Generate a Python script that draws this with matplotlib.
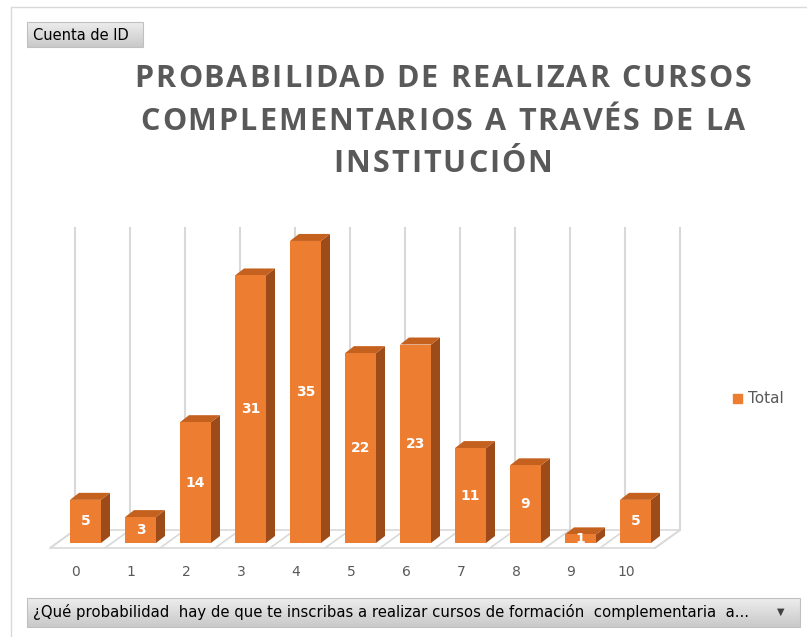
import matplotlib.pyplot as plt
import numpy as np
from matplotlib.patches import Polygon, Rectangle
from matplotlib.font_manager import FontProperties
from matplotlib.colors import LinearSegmentedColormap

# --- data ---
categories = ['0', '1', '2', '3', '4', '5', '6', '7', '8', '9', '10']
totals = [5, 3, 14, 31, 35, 22, 23, 11, 9, 1, 5]

title_lines = ['PROBABILIDAD DE REALIZAR CURSOS',
               'COMPLEMENTARIOS A TRAVÉS DE LA',
               'INSTITUCIÓN']
field_button = 'Cuenta de ID'
axis_button = ('¿Qué probabilidad  hay de que te inscribas a realizar cursos de '
               'formación  complementaria  a...')
legend_label = 'Total'

W, H = 807, 637
FRONT = '#ED7D31'
SIDE = '#9E4B1A'
TOP = '#C5611F'
GRID = '#D9D9D9'
TEXT = '#595959'

fig = plt.figure(figsize=(W / 100, H / 100), dpi=100)

# background axes in pixel units for the frame, buttons, legend and title
bg = fig.add_axes([0, 0, 1, 1])
bg.set_xlim(0, W)
bg.set_ylim(H, 0)
bg.axis('off')

bg.plot([11, 11, W + 5], [H + 5, 7, 7], color='#D9D9D9', lw=1)


def button(x0, y0, x1, y1):
    grad = np.linspace(0, 1, 50).reshape(-1, 1)
    cmap = LinearSegmentedColormap.from_list('b', ['#EDEDED', '#C9C9C9'])
    bg.imshow(grad, cmap=cmap, extent=(x0, x1, y1, y0), aspect='auto', zorder=1)
    bg.add_patch(Rectangle((x0, y0), x1 - x0, y1 - y0, fill=False,
                           ec='#C0C0C0', lw=0.8, zorder=2))


button(27, 22, 143, 47)
bg.text(33, 35, field_button, fontsize=10.5, color='black', va='center', zorder=3)
button(27, 598, 800, 627)
bg.text(33, 612.5, axis_button, fontsize=10.7, color='black', va='center', zorder=3)
bg.text(781, 612, '▼', fontsize=7, color='#404040', ha='center', va='center', zorder=3)

# legend
bg.add_patch(Rectangle((733, 394), 9, 9, color=FRONT))
bg.text(748, 398.5, legend_label, fontsize=11, color=TEXT, va='center')

# title, letter-spaced like the Excel chart title
renderer = fig.canvas.get_renderer()
tprop = FontProperties(family='Open Sans', weight='bold', size=22)


def text_w(s):
    return renderer.get_text_width_height_descent(s, tprop, ismath=False)[0]


line1 = title_lines[0]
spacing = max(0.0, (617 - text_w(line1)) / (len(line1) - 1))

for line, base in zip(title_lines, [87, 130, 172]):
    total_w = text_w(line) + (len(line) - 1) * spacing
    start = 443 - total_w / 2
    for i, ch in enumerate(line):
        if ch == ' ':
            continue
        xpos = start + text_w(line[:i] + 'X') - text_w('X') + i * spacing
        bg.text(xpos, base, ch, fontproperties=tprop, color=TEXT,
                ha='left', va='baseline')

# --- main plot area, scaled so that the bars land where they do in the picture ---
px_x = 55.0          # pixels per category
px_y = 8.63          # pixels per unit
x0_px, y0_px = 85.5, 543  # centre of first bar, baseline
left_px, right_px, top_px, bot_px = 40, 720, 215, 565
ax = fig.add_axes([left_px / W, 1 - bot_px / H, (right_px - left_px) / W,
                   (bot_px - top_px) / H])
ax.set_xlim((left_px - x0_px) / px_x, (right_px - x0_px) / px_x)
ax.set_ylim((y0_px - bot_px) / px_y, (y0_px - top_px) / px_y)
ax.axis('off')

x = np.arange(len(categories))
bw = 31 / px_x
dx, dy = 9 / px_x, 7 / px_y

# floor and back-wall gridlines
f_back = 13 / px_y
f_front = -5 / px_y
sh = 25 / px_x
fl = -0.5 - 0.145
fr = fl + len(categories)
ax.add_patch(Polygon([(fl, f_front), (fr, f_front), (fr + sh, f_back), (fl + sh, f_back)],
                     closed=True, fc='white', ec=GRID, lw=1.2, zorder=1))
for k in range(len(categories) + 1):
    ax.plot([fl + k, fl + k + sh], [f_front, f_back], color=GRID, lw=1.2, zorder=1)
    ax.plot([fl + k + sh, fl + k + sh], [f_back, 36.5], color=GRID, lw=1.5, zorder=0.5)

# bars with side and top faces
ax.bar(x, totals, width=bw, color=FRONT, zorder=3)
for xi, v in zip(x, totals):
    r = xi + bw / 2
    l = xi - bw / 2
    ax.add_patch(Polygon([(r, 0), (r, v), (r + dx, v + dy), (r + dx, dy)],
                         closed=True, fc=SIDE, ec='none', zorder=2.9))
    ax.add_patch(Polygon([(l, v), (r, v), (r + dx, v + dy), (l + dx, v + dy)],
                         closed=True, fc=TOP, ec='none', zorder=2.9))
    ax.text(xi, v / 2, str(v), ha='center', va='center', color='white',
            fontsize=10, fontweight='bold', zorder=4)

# category labels
for xi, c in zip(x, categories):
    ax.text(xi - 9.5 / px_x, (y0_px - 572) / px_y, c, ha='center', va='center',
            fontsize=10, color=TEXT)

fig.savefig('out.png', dpi=100)
